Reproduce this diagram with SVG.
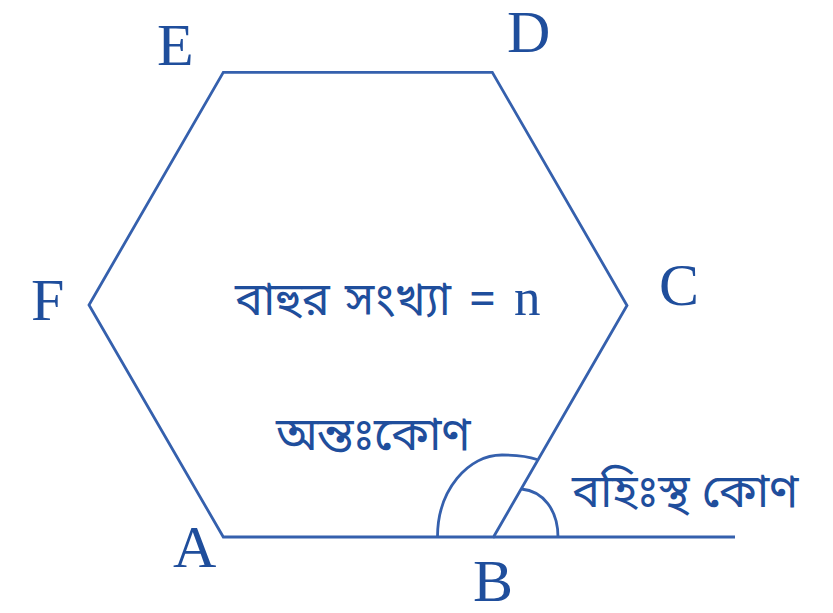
<svg xmlns="http://www.w3.org/2000/svg" width="833" height="613" viewBox="0 0 833 613">
<style>
.ln{fill:none;stroke:#3560ad;stroke-width:2.8;stroke-linejoin:miter}
.lbl{font-family:"Liberation Serif","Times New Roman",serif;font-size:60px;fill:#1f4e9c}
.bn{font-family:"Noto Sans Bengali","Noto Serif Bengali","Lohit Bengali","Vrinda","Noto Sans",sans-serif;font-size:47px;fill:#1f4e9c}
</style>
<rect width="833" height="613" fill="#ffffff"/>
<g id="connectors">
<path id="hexagon" class="ln" d="M223.3,72.3 L492.3,72.3 L627,305.5 L493.5,537 L223.3,537 L89,305 Z"/>
<line id="extension" class="ln" x1="493.5" y1="537" x2="735" y2="537"/>
<path id="interior-arc" class="ln" d="M437.5,537 C437.5,490 468,455 502,455 C518,455 530,457 537,459.5"/>
<path id="exterior-arc" class="ln" d="M521.5,489 C543,491 558,510 558,537"/>
</g>
<g id="node-E"><text class="lbl" x="157" y="65">E</text></g>
<g id="node-D"><text class="lbl" x="507" y="52">D</text></g>
<g id="node-F"><text class="lbl" x="31" y="320">F</text></g>
<g id="node-C"><text class="lbl" x="659" y="305">C</text></g>
<g id="node-A"><text class="lbl" x="173" y="567">A</text></g>
<g id="node-B"><text class="lbl" x="473" y="601">B</text></g>
<g id="label-sides">
<text class="bn" x="235" y="315" font-size="49">বাহুর</text>
<text class="bn" x="345" y="315" font-size="49">সংখ্যা</text>
<text class="bn" x="469" y="315" font-size="49">=</text>
<text x="514" y="315" font-family="'Liberation Serif',serif" font-size="53" fill="#1f4e9c">n</text>
</g>
<g id="label-interior"><text class="bn" x="276" y="450" font-size="45">অন্তঃকোণ</text></g>
<g id="label-exterior"><text class="bn" x="572" y="507">বহিঃস্থ কোণ</text></g>
</svg>
